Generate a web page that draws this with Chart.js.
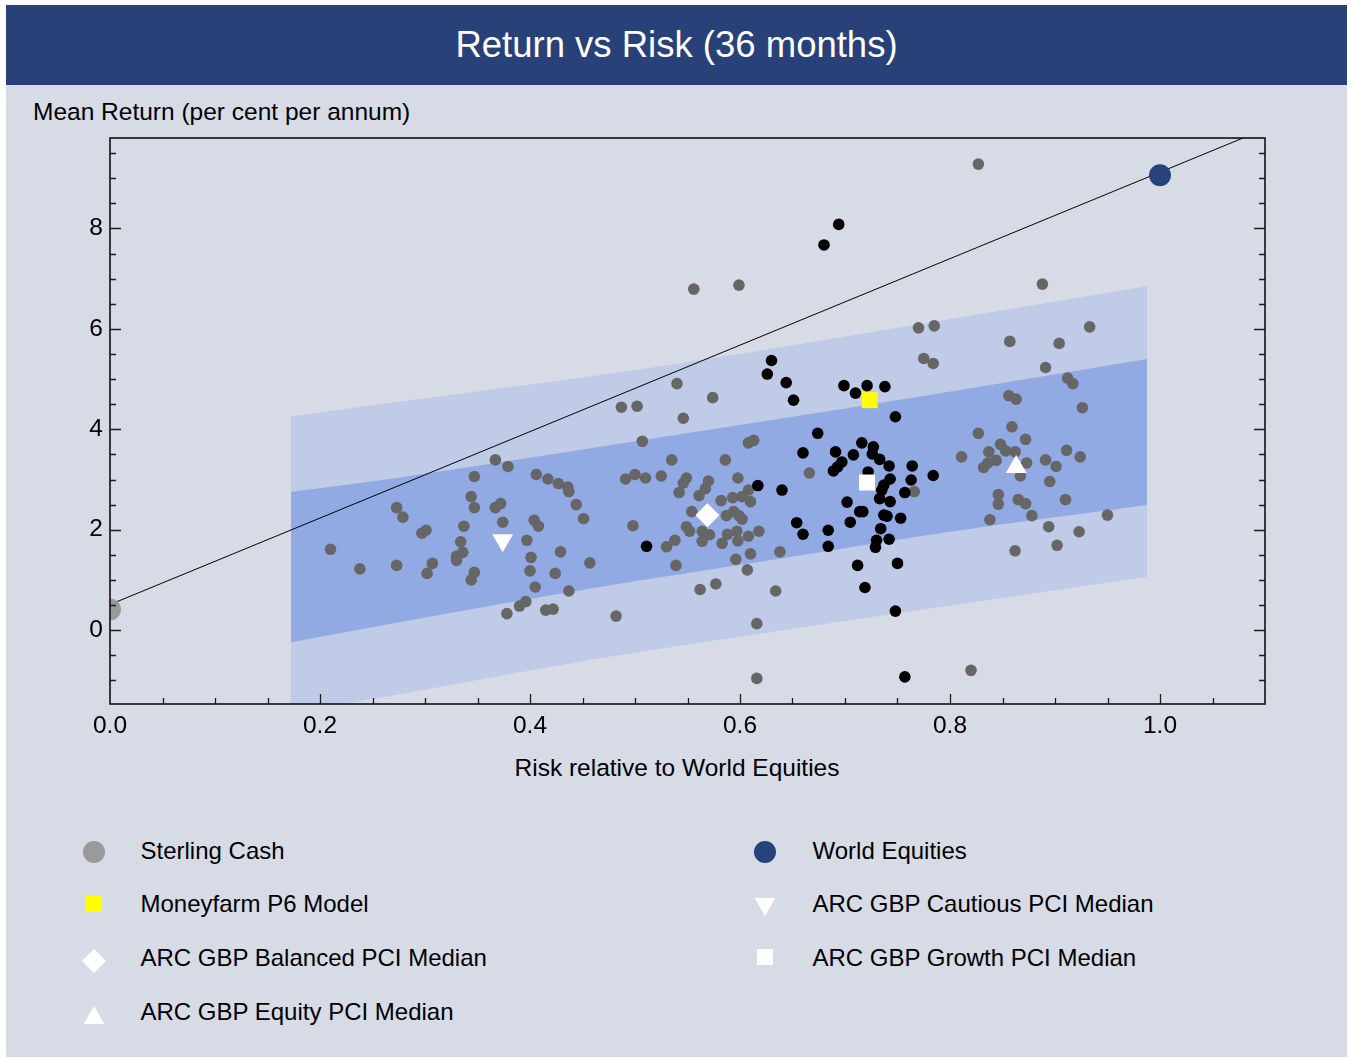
<!DOCTYPE html>
<html><head><meta charset="utf-8">
<script src="https://cdn.jsdelivr.net/npm/chart.js@4.4.0/dist/chart.umd.min.js"></script>
<style>
html,body{margin:0;padding:0;background:#fff;width:1351px;height:1059px;overflow:hidden;font-family:"Liberation Sans",Arial,sans-serif;color:#000;}
#panel{position:absolute;left:6px;top:5px;width:1341px;height:1052px;background:#d7dbe6;}
#titlebar{position:absolute;left:6px;top:5px;width:1341px;height:80px;background:#284178;color:#fff;font-size:36.5px;line-height:80px;text-align:center;white-space:nowrap;}
.txt{position:absolute;font-size:24.5px;line-height:30px;white-space:nowrap;color:#000;}
.lgt{font-size:24px;}
#ylab{left:33px;top:97px;}
#xlab{left:0;width:1354px;text-align:center;top:753px;}
#chart{position:absolute;left:0;top:85px;}
.mk{position:absolute;width:30px;height:30px;}
</style>
</head><body>
<div id="panel"></div>
<div id="titlebar">Return vs Risk (36 months)</div>
<div id="ylab" class="txt">Mean Return (per cent per annum)</div>
<div id="xlab" class="txt">Risk relative to World Equities</div>
<canvas id="chart" width="1351" height="715"></canvas>
<div id="legend"></div>
<script>
// ---------------- DATA ----------------
const specialNames  = ['Sterling Cash','World Equities','Moneyfarm P6 Model','ARC GBP Cautious PCI Median','ARC GBP Balanced PCI Median','ARC GBP Growth PCI Median','ARC GBP Equity PCI Median'];
const specialRisk   = [0.0, 1.0, 0.7235, 0.374, 0.569, 0.721, 0.863];
const specialReturn = [0.41, 9.06, 4.58, 1.79, 2.29, 2.94, 3.25];

const greyRisk = [
0.210,0.238,0.273,0.273,0.279,0.297,0.301,0.307,0.302,0.337,0.334,0.336,0.330,0.330,0.344,0.347,0.347,0.347,0.344,0.367,
0.379,0.367,0.372,0.374,0.378,0.390,0.396,0.406,0.417,0.427,0.436,0.437,0.444,0.451,0.404,0.408,0.397,0.401,0.400,0.405,
0.429,0.424,0.457,0.437,0.415,0.422,0.482,0.491,
0.540,0.574,0.487,0.502,0.546,0.507,0.608,0.613,0.535,0.586,0.500,0.510,0.525,0.549,0.546,0.542,0.570,0.567,0.561,0.598,
0.608,0.602,0.593,0.582,0.610,0.554,0.587,0.594,0.599,0.602,0.498,0.549,0.552,0.564,0.571,0.564,0.538,0.530,0.583,0.588,
0.597,0.598,0.608,0.618,0.610,0.596,0.638,0.539,0.607,0.562,0.577,0.634,0.616,0.616,0.666,0.766,0.556,0.599,0.827,0.820,
0.888,0.770,0.785,0.933,0.857,0.904,0.775,0.784,0.891,0.912,0.917,0.856,0.863,0.926,0.859,0.827,0.872,0.848,0.853,0.862,
0.837,0.811,0.911,0.924,0.891,0.901,0.844,0.836,0.832,0.873,0.867,0.895,0.846,0.846,0.865,0.872,0.910,0.838,0.878,0.950,
0.894,0.923,0.902,0.862];
const greyReturn = [
1.61,1.22,1.29,2.44,2.25,1.93,1.99,1.33,1.13,2.07,1.76,1.55,1.47,1.39,2.66,2.44,3.06,1.15,1.00,3.39,
3.26,2.44,2.52,2.15,0.33,0.48,0.57,3.10,3.01,2.92,2.85,2.76,2.50,2.22,2.19,2.07,1.79,1.45,1.18,0.86,
1.56,1.13,1.34,0.78,0.40,0.42,0.28,3.01,
4.91,4.63,4.44,4.46,4.22,3.76,3.73,3.78,3.39,3.39,3.10,3.03,3.07,3.03,2.93,2.74,2.97,2.82,2.68,3.03,
2.79,2.66,2.64,2.58,2.56,2.36,2.28,2.36,2.28,2.21,2.08,2.06,1.97,1.97,1.90,1.77,1.79,1.66,1.73,1.91,
1.97,1.78,1.87,1.97,1.52,1.41,1.56,1.29,1.20,0.81,0.92,0.78,0.13,-0.96,3.13,2.76,6.79,6.87,9.28,-0.80,
6.89,6.02,6.06,6.04,5.75,5.71,5.41,5.31,5.23,5.02,4.91,4.67,4.60,4.43,4.05,3.92,3.80,3.70,3.57,3.55,
3.55,3.45,3.58,3.45,3.39,3.26,3.38,3.33,3.24,3.33,3.07,2.96,2.70,2.51,2.60,2.52,2.60,2.20,2.28,2.29,
2.06,1.96,1.69,1.58];

const blackRisk = [
0.630,0.626,0.644,0.651,0.699,0.710,0.721,0.738,0.748,0.674,0.660,0.691,0.708,0.716,0.727,0.726,0.733,0.742,0.764,0.784,
0.763,0.757,0.743,0.737,0.735,0.733,0.743,0.697,0.693,0.689,0.722,0.702,0.714,0.717,0.737,0.740,0.753,0.705,0.734,0.742,
0.730,0.729,0.712,0.750,0.719,0.748,0.757,0.617,0.640,0.511,0.654,0.660,0.684,0.684,0.680,0.694];
const blackReturn = [
5.37,5.10,4.93,4.58,4.87,4.72,4.87,4.85,4.25,3.92,3.53,3.55,3.49,3.73,3.65,3.51,3.40,3.27,3.27,3.08,
2.99,2.74,3.01,2.89,2.79,2.62,2.56,3.35,3.25,3.17,3.15,2.55,2.36,2.36,2.29,2.27,2.23,2.15,2.02,1.81,
1.79,1.65,1.29,1.33,0.85,0.38,-0.93,2.88,2.79,1.67,2.14,1.91,1.99,1.67,7.67,8.08];

const lineRisk   = [0.0, 1.1];
const lineReturn = [0.51, 9.98];

const bandRisk        = [0.1724, 0.2857, 0.4667, 0.6286, 0.7905, 0.9876];
const bandOuterTop    = [4.26, 4.58, 5.08, 5.60, 6.16, 6.85];
const bandInnerTop    = [2.75, 3.07, 3.65, 4.18, 4.72, 5.40];
const bandInnerBottom = [-0.24, 0.20, 0.86, 1.39, 1.93, 2.49];
const bandOuterBottom = [-1.65, -1.24, -0.56, -0.04, 0.46, 1.06];

const xTickLabels = [0.0, 0.2, 0.4, 0.6, 0.8, 1.0];
const yTickLabels = [0, 2, 4, 6, 8];

// ---------------- STYLES ----------------
const specialColors = ['#9a9a9a','#27437c','#ffff00','#ffffff','#ffffff','#ffffff','#ffffff'];
const specialShapes = ['circle','circle','rect','triangleDown','rectRot','rect','triangle'];
const specialRadius = [11, 11, 11.3, 12, 12, 11.3, 12];
const legendLeftCol  = [0, 2, 4, 6];
const legendRightCol = [1, 3, 5];

const pts = (xs, ys) => xs.map((v, i) => ({x: v, y: ys[i]}));

Chart.defaults.font.family = '"Liberation Sans", Arial, sans-serif';
Chart.defaults.color = '#000';

const datasets = [];
specialNames.forEach((name, i) => {
  const shape = specialShapes[i];
  datasets.push({
    type: 'scatter', label: name,
    data: [{x: specialRisk[i], y: specialReturn[i]}],
    pointStyle: shape === 'triangleDown' ? 'triangle' : shape,
    rotation: shape === 'triangleDown' ? 180 : 0,
    pointRadius: specialRadius[i], pointHoverRadius: specialRadius[i],
    backgroundColor: specialColors[i], pointBackgroundColor: specialColors[i],
    borderWidth: 0, pointBorderWidth: 0, borderColor: 'rgba(0,0,0,0)',
    clip: i === 0 ? 0 : false, order: 0
  });
});
datasets.push({type:'scatter', label:'black', data: pts(blackRisk, blackReturn), pointRadius:5.8, pointHoverRadius:5.8,
  pointBackgroundColor:'#000', backgroundColor:'#000', pointBorderWidth:0, borderWidth:0, order:1});
datasets.push({type:'scatter', label:'grey', data: pts(greyRisk, greyReturn), pointRadius:5.8, pointHoverRadius:5.8,
  pointBackgroundColor:'#666666', backgroundColor:'#666666', pointBorderWidth:0, borderWidth:0, order:2});
datasets.push({type:'line', label:'line', data: pts(lineRisk, lineReturn), borderColor:'#000', borderWidth:1,
  pointRadius:0, fill:false, tension:0, order:3});
datasets.push({type:'line', label:'innerTop', data: pts(bandRisk, bandInnerTop), borderColor:'rgba(0,0,0,0)', borderWidth:0,
  pointRadius:0, fill:'+1', backgroundColor:'#91aae4', cubicInterpolationMode:'monotone', order:4});
datasets.push({type:'line', label:'innerBottom', data: pts(bandRisk, bandInnerBottom), borderColor:'rgba(0,0,0,0)', borderWidth:0,
  pointRadius:0, fill:false, cubicInterpolationMode:'monotone', order:5});
datasets.push({type:'line', label:'outerTop', data: pts(bandRisk, bandOuterTop), borderColor:'rgba(0,0,0,0)', borderWidth:0,
  pointRadius:0, fill:'+1', backgroundColor:'#c0cbe7', cubicInterpolationMode:'monotone', order:6});
datasets.push({type:'line', label:'outerBottom', data: pts(bandRisk, bandOuterBottom), borderColor:'rgba(0,0,0,0)', borderWidth:0,
  pointRadius:0, fill:false, cubicInterpolationMode:'monotone', order:7});

const frameTicks = {
  id: 'frameTicks',
  afterDatasetsDraw(chart) {
    const {ctx, chartArea: a, scales: {x, y}} = chart;
    ctx.save();
    ctx.strokeStyle = '#1e1e1e';
    ctx.lineWidth = 1.3;
    ctx.beginPath();
    for (let i = 1; i * 0.05 < x.max - 1e-9; i++) {
      const px = Math.round(x.getPixelForValue(i * 0.05)) + 0.5;
      const len = (i % 4 === 0) ? 10 : 6;
      ctx.moveTo(px, a.bottom); ctx.lineTo(px, a.bottom - len);
    }
    for (let k = Math.ceil(y.min * 2); k / 2 <= y.max; k++) {
      const py = Math.round(y.getPixelForValue(k / 2)) + 0.5;
      const len = (k % 4 === 0) ? 11 : 6;
      ctx.moveTo(a.left, py); ctx.lineTo(a.left + len, py);
      ctx.moveTo(a.right, py); ctx.lineTo(a.right - len, py);
    }
    ctx.stroke();
    ctx.lineWidth = 1.6;
    ctx.strokeStyle = '#111';
    ctx.strokeRect(a.left, a.top, a.right - a.left, a.bottom - a.top);
    ctx.restore();
  }
};

new Chart(document.getElementById('chart'), {
  type: 'scatter',
  data: {datasets},
  options: {
    responsive: false, animation: false, devicePixelRatio: 1,
    layout: {padding: {left: 0, right: 86, top: 53, bottom: 56}},
    plugins: {legend: {display: false}, tooltip: {enabled: false}},
    events: [],
    scales: {
      x: {type: 'linear', min: 0, max: 1.1,
        afterFit: s => { s.height = 40; },
        grid: {display: false, drawTicks: false}, border: {display: false},
        afterBuildTicks: s => { s.ticks = xTickLabels.map(v => ({value: v})); },
        ticks: {padding: 8, color: '#000', font: {size: 24.5}, maxRotation: 0, autoSkip: false,
          callback: v => Number(v).toFixed(1)}},
      y: {type: 'linear', min: -1.47, max: 9.8,
        afterFit: s => { s.width = 110; },
        grid: {display: false, drawTicks: false}, border: {display: false},
        afterBuildTicks: s => { s.ticks = yTickLabels.map(v => ({value: v})); },
        ticks: {padding: 7, color: '#000', font: {size: 24.5}, autoSkip: false,
          callback: v => String(Math.round(v))}}
    }
  },
  plugins: [frameTicks]
});

// ---------------- LEGEND (HTML) ----------------
function drawMarker(ctx, shape, cx, cy, r, color) {
  ctx.fillStyle = color;
  ctx.beginPath();
  if (shape === 'circle') { ctx.arc(cx, cy, r, 0, Math.PI * 2); }
  else if (shape === 'rect') { const s = Math.SQRT1_2 * r; ctx.rect(cx - s, cy - s, 2 * s, 2 * s); }
  else if (shape === 'rectRot') { ctx.moveTo(cx - r, cy); ctx.lineTo(cx, cy - r); ctx.lineTo(cx + r, cy); ctx.lineTo(cx, cy + r); ctx.closePath(); }
  else if (shape === 'triangle') { const h = 0.75 * r; ctx.moveTo(cx, cy - h); ctx.lineTo(cx + 0.866 * r, cy + h); ctx.lineTo(cx - 0.866 * r, cy + h); ctx.closePath(); }
  else if (shape === 'triangleDown') { const h = 0.75 * r; ctx.moveTo(cx, cy + h); ctx.lineTo(cx + 0.866 * r, cy - h); ctx.lineTo(cx - 0.866 * r, cy - h); ctx.closePath(); }
  ctx.fill();
}
const legendRowsY = [850, 903.5, 957, 1011];
const markerOffsets = {circle: 2, rect: 0, rectRot: 3.5, triangle: 3.5, triangleDown: 3.5};
const legendEl = document.getElementById('legend');
function addItem(idx, row, markerX, textX) {
  const c = document.createElement('canvas');
  c.width = 30; c.height = 30; c.className = 'mk';
  const cy = legendRowsY[row] + markerOffsets[specialShapes[idx]];
  c.style.left = (markerX - 15) + 'px';
  c.style.top = (cy - 15) + 'px';
  drawMarker(c.getContext('2d'), specialShapes[idx], 15, 15, specialRadius[idx], specialColors[idx]);
  legendEl.appendChild(c);
  const t = document.createElement('div');
  t.className = 'txt lgt';
  t.textContent = specialNames[idx];
  t.style.left = textX + 'px';
  t.style.top = (legendRowsY[row] - 14.5) + 'px';
  legendEl.appendChild(t);
}
legendLeftCol.forEach((idx, row) => addItem(idx, row, 93.5, 140.5));
legendRightCol.forEach((idx, row) => addItem(idx, row, 764.5, 812.5));
</script>
</body></html>
